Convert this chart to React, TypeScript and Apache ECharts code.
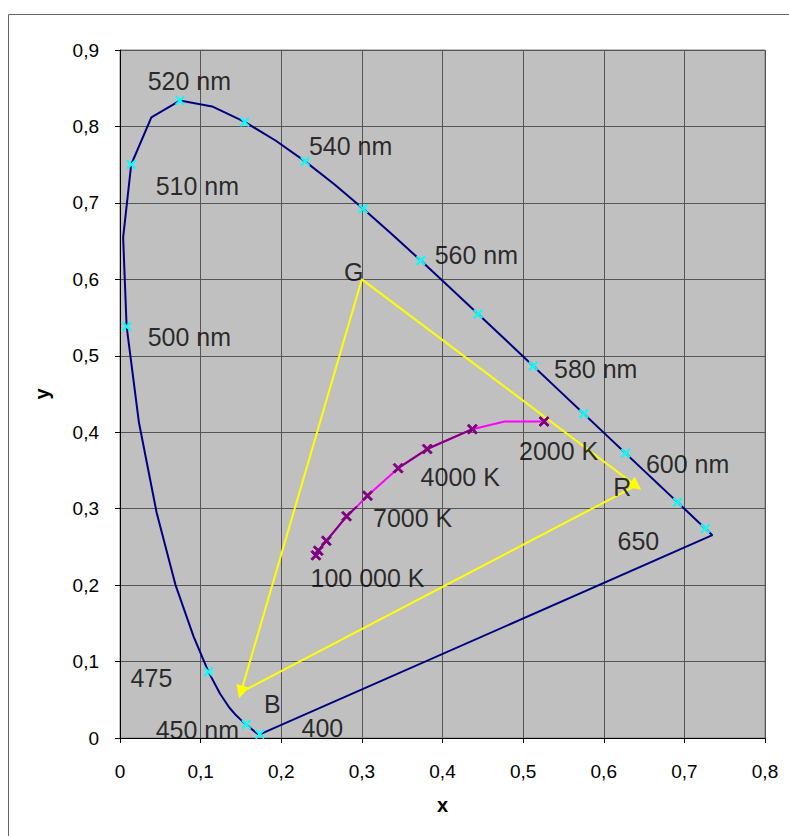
import React, { useEffect, useRef } from "react";
import * as echarts from "echarts";

// Spectral locus (CIE 1931), wavelengths in nm
const wavelengths = [400, 405, 410, 415, 420, 425, 430, 435, 440, 445, 450, 455, 460, 465, 470, 475, 480, 485, 490, 495, 500, 505, 510, 515, 520, 525, 530, 535, 540, 545, 550, 555, 560, 565, 570, 575, 580, 585, 590, 595, 600, 605, 610, 615, 620, 625, 630, 635, 640, 645, 650, 660, 680, 700];
const locusX = [0.1733, 0.173, 0.1726, 0.1721, 0.1714, 0.1703, 0.1689, 0.1669, 0.1644, 0.1611, 0.1566, 0.151, 0.144, 0.1355, 0.1241, 0.1096, 0.0913, 0.0687, 0.0454, 0.0235, 0.0082, 0.0039, 0.0139, 0.0389, 0.0743, 0.1142, 0.1547, 0.1929, 0.2296, 0.2658, 0.3016, 0.3373, 0.3731, 0.4087, 0.4441, 0.4788, 0.5125, 0.5448, 0.5752, 0.6029, 0.627, 0.6482, 0.6658, 0.6801, 0.6915, 0.7006, 0.7079, 0.714, 0.719, 0.723, 0.726, 0.73, 0.7334, 0.7347];
const locusY = [0.0048, 0.0048, 0.0048, 0.0048, 0.0051, 0.0058, 0.0069, 0.0086, 0.0109, 0.0138, 0.0177, 0.0227, 0.0297, 0.0399, 0.0578, 0.0868, 0.1327, 0.2007, 0.295, 0.4127, 0.5384, 0.6548, 0.7502, 0.812, 0.8338, 0.8262, 0.8059, 0.7816, 0.7543, 0.7243, 0.6923, 0.6589, 0.6245, 0.5896, 0.5547, 0.5202, 0.4866, 0.4544, 0.4242, 0.3965, 0.3725, 0.3514, 0.334, 0.3197, 0.3083, 0.2993, 0.292, 0.2859, 0.2809, 0.277, 0.274, 0.27, 0.2666, 0.2653];
const markedWavelengths = [400, 450, 475, 500, 510, 520, 530, 540, 550, 560, 570, 580, 590, 600, 620, 650];

// Planckian locus
const planckTemps = [2000, 2500, 3000, 4000, 5000, 7000, 8000, 10000, 20000, 50000, 100000];
const planckX = [0.526, 0.477, 0.437, 0.381, 0.345, 0.307, 0.294, 0.281, 0.256, 0.246, 0.243];
const planckY = [0.414, 0.414, 0.404, 0.378, 0.353, 0.317, 0.303, 0.29, 0.258, 0.245, 0.239];
const planckMarked = [2000, 3000, 4000, 5000, 7000, 10000, 20000, 50000, 100000];
const planckPurpleRuns = [[3000, 4000, 5000], [8000, 10000, 20000, 50000, 100000]];

// RGB primaries
const primaryNames = ["R", "G", "B"];
const primaryX = [0.64, 0.3, 0.15];
const primaryY = [0.33, 0.6, 0.06];

// Annotations
const labelTexts = ["520 nm", "510 nm", "540 nm", "560 nm", "500 nm", "580 nm", "600 nm", "650", "G", "R", "B", "475", "450 nm", "400", "2000 K", "4000 K", "7000 K", "100 000 K"];
const labelX = [0.086, 0.096, 0.286, 0.442, 0.086, 0.59, 0.704, 0.643, 0.29, 0.623, 0.189, 0.039, 0.096, 0.251, 0.544, 0.422, 0.363, 0.307];
const labelY = [0.86, 0.722, 0.775, 0.632, 0.525, 0.483, 0.359, 0.258, 0.609, 0.328, 0.045, 0.079, 0.011, 0.013, 0.376, 0.342, 0.288, 0.209];

// Axis ticks
const xTickLabels = ["0", "0,1", "0,2", "0,3", "0,4", "0,5", "0,6", "0,7", "0,8"];
const yTickLabels = ["0", "0,1", "0,2", "0,3", "0,4", "0,5", "0,6", "0,7", "0,8", "0,9"];

const FONT = "'Liberation Sans', Arial, sans-serif";
const CROSS = "path://M0,1.5L1.5,0L5,3.5L8.5,0L10,1.5L6.5,5L10,8.5L8.5,10L5,6.5L1.5,10L0,8.5L3.5,5Z";

export default function App() {
  const ref = useRef<HTMLDivElement>(null);
  useEffect(() => {
    if (!ref.current) return;
    const chart = echarts.init(ref.current, undefined, { renderer: "svg" });

    const locusData = wavelengths.map((_, i) => [locusX[i], locusY[i]]);
    locusData.push([locusX[0], locusY[0]]);
    const markerData = markedWavelengths.map((w) => {
      const i = wavelengths.indexOf(w);
      return [locusX[i], locusY[i]];
    });
    const planckData = planckTemps.map((_, i) => [planckX[i], planckY[i]]);
    const planckMarkerData = planckMarked.map((t) => {
      const i = planckTemps.indexOf(t);
      return [planckX[i], planckY[i]];
    });
    const pt = (n: string) => {
      const i = primaryNames.indexOf(n);
      return [primaryX[i], primaryY[i]];
    };

    const purpleSeries = planckPurpleRuns.map((run) => ({
      type: "line",
      data: run.map((t) => {
        const i = planckTemps.indexOf(t);
        return [planckX[i], planckY[i]];
      }),
      symbol: "none",
      lineStyle: { color: "#800080", width: 2 },
      z: 4,
      silent: true,
    }));

    chart.setOption({
      animation: false,
      grid: {
        left: 120,
        right: 24,
        top: 50,
        bottom: 98,
        show: true,
        backgroundColor: "#C0C0C0",
        borderColor: "#808080",
        borderWidth: 1,
      },
      xAxis: {
        type: "value",
        min: 0,
        max: 0.8,
        interval: 0.1,
        name: "x",
        nameLocation: "middle",
        nameGap: 57,
        nameTextStyle: { fontFamily: FONT, fontSize: 20, fontWeight: "bold", color: "#000" },
        axisLine: { show: true, lineStyle: { color: "#000", width: 1 } },
        axisTick: { show: true, length: 5, lineStyle: { color: "#000" } },
        axisLabel: {
          margin: 24,
          fontFamily: FONT,
          fontSize: 19,
          color: "#000",
          formatter: (v: number) => xTickLabels[Math.round(v * 10)] ?? "",
        },
        splitLine: { show: true, lineStyle: { color: "#555555", width: 1 } },
      },
      yAxis: {
        type: "value",
        min: 0,
        max: 0.9,
        interval: 0.1,
        name: "y",
        nameLocation: "middle",
        nameGap: 68,
        nameRotate: 90,
        nameTextStyle: { fontFamily: FONT, fontSize: 20, fontWeight: "bold", color: "#000" },
        axisLine: { show: true, lineStyle: { color: "#000", width: 1 } },
        axisTick: { show: true, length: 5, lineStyle: { color: "#000" } },
        axisLabel: {
          margin: 21,
          fontFamily: FONT,
          fontSize: 19,
          color: "#000",
          formatter: (v: number) => yTickLabels[Math.round(v * 10)] ?? "",
        },
        splitLine: { show: true, lineStyle: { color: "#555555", width: 1 } },
      },
      graphic: [
        {
          type: "rect",
          shape: { x: 8.5, y: 14.5, width: 900, height: 1000 },
          style: { fill: "none", stroke: "#666666", lineWidth: 1 },
          z: -10,
          silent: true,
        },
      ],
      series: [
        {
          type: "lines",
          coordinateSystem: "cartesian2d",
          data: [
            { coords: [pt("G"), pt("B")] },
            { coords: [pt("G"), pt("R")] },
          ],
          symbol: ["none", "triangle"],
          symbolSize: [11, 13],
          lineStyle: { color: "#FFFF00", width: 2, opacity: 1, curveness: 0 },
          z: 2,
          silent: true,
        },
        {
          type: "lines",
          coordinateSystem: "cartesian2d",
          data: [{ coords: [pt("B"), pt("R")] }],
          symbol: ["none", "none"],
          lineStyle: { color: "#FFFF00", width: 2, opacity: 1, curveness: 0 },
          z: 2,
          silent: true,
        },
        {
          type: "line",
          data: planckData,
          symbol: "none",
          lineStyle: { color: "#FF00FF", width: 2 },
          z: 3,
          silent: true,
        },
        ...purpleSeries,
        {
          type: "scatter",
          data: planckMarkerData,
          symbol: CROSS,
          symbolSize: 10,
          itemStyle: { color: "#800080", borderColor: "#800080", borderWidth: 1, opacity: 1 },
          z: 5,
          silent: true,
        },
        {
          type: "line",
          data: locusData,
          symbol: "none",
          lineStyle: { color: "#000080", width: 2 },
          z: 6,
          silent: true,
        },
        {
          type: "scatter",
          data: markerData,
          symbol: CROSS,
          symbolSize: 10,
          itemStyle: { color: "#00FFFF", opacity: 1 },
          z: 7,
          silent: true,
        },
        {
          type: "scatter",
          data: labelTexts.map((t, i) => ({ name: t, value: [labelX[i], labelY[i]] })),
          symbolSize: 1,
          itemStyle: { color: "rgba(0,0,0,0)" },
          label: {
            show: true,
            position: "inside",
            formatter: "{b}",
            fontFamily: FONT,
            fontSize: 25,
            color: "#000",
          },
          z: 8,
          silent: true,
        },
      ],
    });
    return () => chart.dispose();
  }, []);
  return (
    <div
      ref={ref}
      style={{ position: "fixed", left: 0, top: 0, width: 789, height: 836, background: "#fff" }}
    />
  );
}
